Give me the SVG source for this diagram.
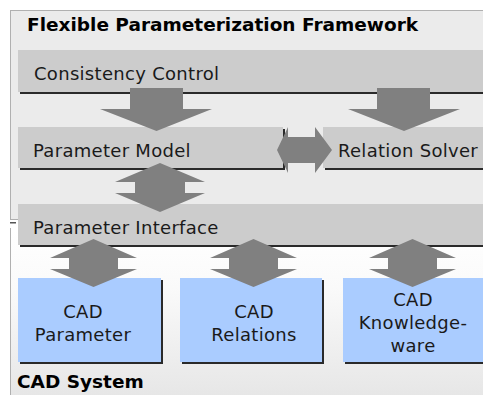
<svg xmlns="http://www.w3.org/2000/svg" width="483" height="395" viewBox="0 0 483 395">
<defs>
<linearGradient id="cadbg" x1="0" y1="0" x2="0" y2="1">
<stop offset="0" stop-color="#ffffff"/>
<stop offset="0.35" stop-color="#fafafa"/>
<stop offset="1" stop-color="#e6e6e6"/>
</linearGradient>
</defs>
<style>
text{font-family:"DejaVu Sans","Liberation Sans",sans-serif;fill:#1a1a1a;}
.lbl{font-size:18px;letter-spacing:0.3px;}
.ttl{font-size:18.5px;font-weight:bold;fill:#000;}
.bar{fill:#cccccc;}
.sh{fill:#2a2a2a;}
.box{fill:#aaccff;}
.arr{fill:#808080;}
.mid{text-anchor:middle;}
</style>
<rect width="483" height="395" fill="#ffffff"/>
<g id="cad-system">
<rect x="10.5" y="228.5" width="480" height="170" fill="url(#cadbg)" stroke="#b0b0b0" stroke-width="1"/>
<rect x="11" y="226" width="8" height="6" fill="#ffffff"/>
<text class="ttl" x="17" y="388">CAD System</text>
</g>
<g id="framework">
<rect x="10.5" y="10.5" width="480" height="209" fill="#ebebeb" stroke="#b0b0b0" stroke-width="1"/>
<rect x="10" y="222" width="6" height="1.5" fill="#555"/>
<text class="ttl" x="27" y="31">Flexible Parameterization Framework</text>
</g>
<g id="consistency-control">
<rect class="sh" x="20" y="52" width="470" height="42"/>
<rect class="bar" x="18" y="50" width="470" height="42"/>
<text class="lbl" x="34" y="80">Consistency Control</text>
</g>
<g id="parameter-model">
<rect class="sh" x="20" y="129" width="265" height="41"/>
<rect class="bar" x="18" y="127" width="265" height="41"/>
<text class="lbl" x="33" y="157">Parameter Model</text>
</g>
<g id="relation-solver">
<rect class="sh" x="325" y="129" width="165" height="41"/>
<rect class="bar" x="323" y="127" width="165" height="41"/>
<text class="lbl" x="338" y="157">Relation Solver</text>
</g>
<g id="parameter-interface">
<rect class="sh" x="20" y="206" width="470" height="41"/>
<rect class="bar" x="18" y="204" width="470" height="41"/>
<text class="lbl" x="33" y="234">Parameter Interface</text>
</g>
<g id="cad-parameter">
<rect class="sh" x="20" y="280" width="143" height="84"/>
<rect class="box" x="18" y="278" width="143" height="84"/>
<text class="lbl mid" x="83" y="318">CAD</text>
<text class="lbl mid" x="83" y="341">Parameter</text>
</g>
<g id="cad-relations">
<rect class="sh" x="182" y="280" width="142" height="84"/>
<rect class="box" x="180" y="278" width="142" height="84"/>
<text class="lbl mid" x="254" y="318">CAD</text>
<text class="lbl mid" x="254" y="341">Relations</text>
</g>
<g id="cad-knowledgeware">
<rect class="sh" x="345" y="280" width="143" height="84"/>
<rect class="box" x="343" y="278" width="143" height="84"/>
<text class="lbl mid" x="413" y="306">CAD</text>
<text class="lbl mid" x="413" y="329">Knowledge-</text>
<text class="lbl mid" x="413" y="352">ware</text>
</g>
<g id="connectors">
<polygon class="arr" points="130,88 183,88 183,109 212,109 156.5,131 100,109 130,109"/>
<polygon class="arr" points="377,88 430,88 430,109 460,109 404,131 348,109 377,109"/>
<polygon class="arr" points="277,150 288,127 288,137 315,137 315,127 332,150 315,173 315,163 288,163 288,173"/>
<polygon class="arr" points="160,163 205,182 185,182 185,193 205,193 160,212 115,193 135,193 135,182 115,182"/>
<polygon class="arr" points="93.5,239 137,258 118,258 118,269 137,269 93.5,287 50,269 69,269 69,258 50,258"/>
<polygon class="arr" points="253.5,239 297,258 278,258 278,269 297,269 253.5,287 210,269 229,269 229,258 210,258"/>
<polygon class="arr" points="412.5,239 456,258 437,258 437,269 456,269 412.5,287 369,269 388,269 388,258 369,258"/>
</g>
</svg>
